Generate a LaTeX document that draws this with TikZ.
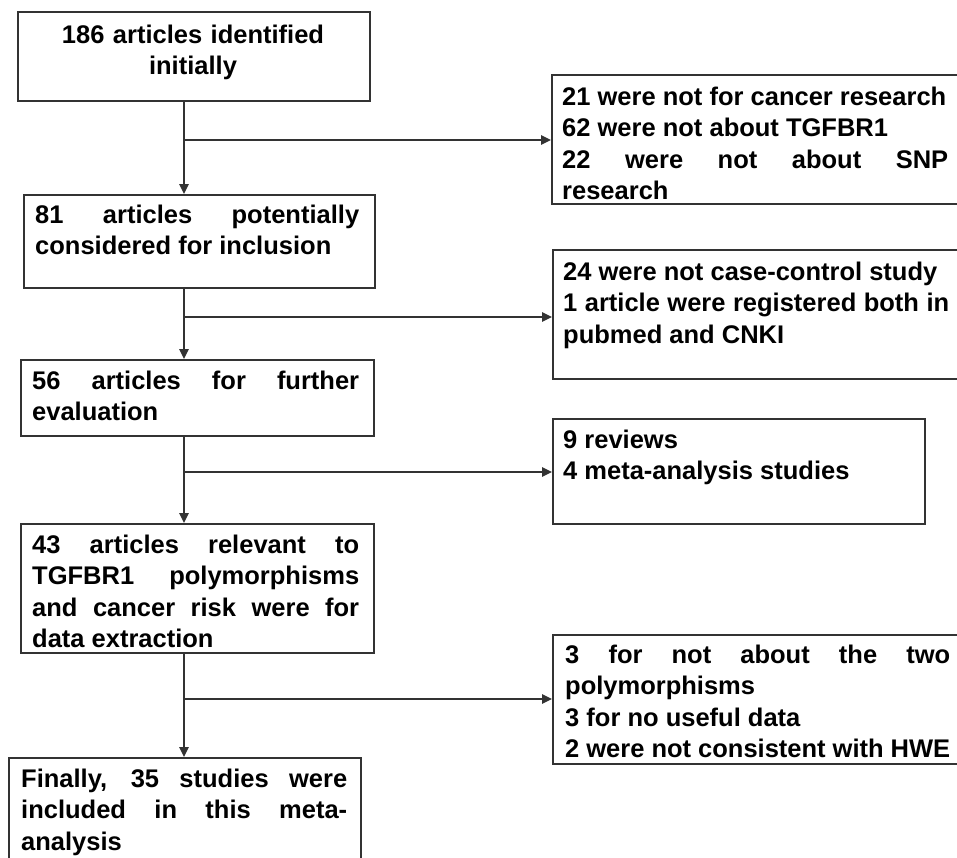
\documentclass[tikz,border=0pt]{standalone}
\usepackage{fontspec}
\setmainfont{Liberation Sans}
\usetikzlibrary{arrows.meta}
\tolerance=10000
\hbadness=10000
\tikzstyle{box}=[draw=black!80,line width=1.5pt,anchor=north west,
                 inner sep=0pt]
\tikzstyle{txt}=[anchor=base west,inner sep=0pt,align=justify,
                 font=\fontsize{25.5}{31.5}\selectfont\bfseries]
\tikzstyle{arr}=[draw=black!80,line width=1.3pt,
                 -{Triangle[length=10pt,width=9.5pt]}]

\begin{document}
\begin{tikzpicture}[x=1pt,y=-1pt]
    \useasboundingbox (0,0) rectangle (957,857);
    \fill[white] (0,0) rectangle (957,857);
    % main column
    \node (b1) at (17,11)  [box,minimum width=352pt,minimum height=89pt]{};
    \node (b2) at (23,194) [box,minimum width=351pt,minimum height=93pt]{};
    \node (b3) at (20,359) [box,minimum width=353pt,minimum height=76pt]{};
    \node (b4) at (20,523) [box,minimum width=353pt,minimum height=129pt]{};
    \node (b5) at (8,757)  [box,minimum width=352pt,minimum height=130pt]{};
    \node (t1) at (193,43) [txt,anchor=base,align=center,text width=340pt]
        {186 articles identified\\initially};
    \node (t2) at (35,223) [txt,text width=324pt]
        {81 articles potentially\linebreak considered for inclusion};
    \node (t3) at (32,389) [txt,text width=327pt]
        {56 articles for further\linebreak evaluation};
    \node (t4) at (32,553) [txt,text width=327pt]
        {43 articles relevant to\linebreak TGFBR1 polymorphisms\linebreak
         and cancer risk were for\linebreak data extraction};
    \node (t5) at (21,787) [txt,text width=326pt]
        {Finally, 35 studies were\linebreak included in this meta-\linebreak
         analysis};
    % excluded
    \node (x1) at (551,74)  [box,minimum width=420pt,minimum height=129pt]{};
    \node (x2) at (552,249) [box,minimum width=420pt,minimum height=129pt]{};
    \node (x3) at (552,418) [box,minimum width=372pt,minimum height=105pt]{};
    \node (x4) at (552,634) [box,minimum width=420pt,minimum height=129pt]{};
    \node (s1) at (562,105) [txt,text width=386pt]
        {21 were not for cancer research\par 62 were not about TGFBR1\par
         22 were not about SNP\linebreak research};
    \node (s2) at (563,280) [txt,text width=386pt]
        {24 were not case-control study\par
         1 article were registered both in\linebreak pubmed and CNKI};
    \node (s3) at (563,448) [txt,text width=340pt]
        {9 reviews\par 4 meta-analysis studies};
    \node (s4) at (565,663) [txt,text width=385pt]
        {3 for not about the two\linebreak polymorphisms\par
         3 for no useful data\par 2 were not consistent with HWE};
    % connectors
    \coordinate (j1) at (184,140);
    \coordinate (j2) at (184,317);
    \coordinate (j3) at (184,472);
    \coordinate (j4) at (184,699);
    \draw[arr] (b1.south -| j1) -- (b2.north -| j1);
    \draw[arr] (b2.south -| j2) -- (b3.north -| j2);
    \draw[arr] (b3.south -| j3) -- (b4.north -| j3);
    \draw[arr] (b4.south -| j4) -- (b5.north -| j4);
    \draw[arr] (j1) -- (x1.west |- j1);
    \draw[arr] (j2) -- (x2.west |- j2);
    \draw[arr] (j3) -- (x3.west |- j3);
    \draw[arr] (j4) -- (x4.west |- j4);
\end{tikzpicture}
\end{document}
